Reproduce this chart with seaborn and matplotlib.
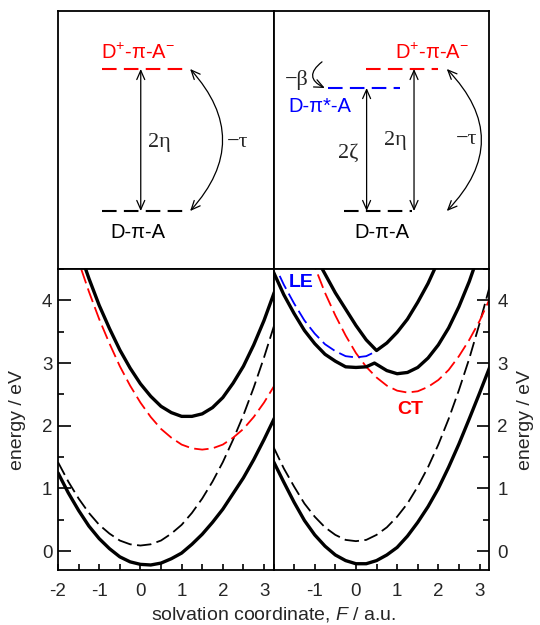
import matplotlib
matplotlib.use("Agg")
import matplotlib.pyplot as plt
from matplotlib.ticker import MultipleLocator
import seaborn as sns

# solvation coordinate grid, F / a.u.
F = [-2.0, -1.75, -1.5, -1.25, -1.0, -0.75, -0.5, -0.25, 0.0, 0.25, 0.5,
     0.75, 1.0, 1.25, 1.5, 1.75, 2.0, 2.25, 2.5, 2.75, 3.0, 3.25]

# left panel: two-state model (energies in eV)
left_neutral = [1.42, 1.11, 0.84, 0.61, 0.42, 0.28, 0.17, 0.11, 0.09, 0.11, 0.17,
                0.28, 0.42, 0.61, 0.84, 1.11, 1.42, 1.78, 2.17, 2.61, 3.09, 3.61]
left_ct = [5.70, 5.14, 4.62, 4.14, 3.70, 3.31, 2.95, 2.64, 2.37, 2.14, 1.95,
           1.81, 1.70, 1.64, 1.62, 1.64, 1.70, 1.81, 1.95, 2.14, 2.37, 2.64]
left_lower = [1.25, 0.93, 0.65, 0.40, 0.20, 0.04, -0.09, -0.17, -0.21, -0.22, -0.19,
              -0.12, -0.03, 0.11, 0.27, 0.46, 0.67, 0.92, 1.17, 1.46, 1.78, 2.12]
left_upper = [5.87, 5.32, 4.82, 4.35, 3.92, 3.55, 3.21, 2.92, 2.67, 2.47, 2.31,
              2.21, 2.15, 2.15, 2.19, 2.29, 2.45, 2.68, 2.95, 3.29, 3.68, 4.13]

# right panel: three-state model
right_neutral = [1.66, 1.32, 1.03, 0.76, 0.55, 0.38, 0.26, 0.18, 0.16, 0.18, 0.26,
                 0.38, 0.55, 0.76, 1.03, 1.34, 1.70, 2.11, 2.57, 3.07, 3.63, 4.23]
right_lower = [1.43, 1.10, 0.78, 0.49, 0.26, 0.08, -0.06, -0.15, -0.20, -0.20, -0.15,
               -0.06, 0.06, 0.24, 0.46, 0.71, 1.00, 1.34, 1.71, 2.11, 2.52, 2.94]

F_ct = [-1.25, -1.0, -0.75, -0.5, -0.25, 0.0, 0.25, 0.5, 0.75, 1.0, 1.25,
        1.5, 1.75, 2.0, 2.25, 2.5, 2.75, 3.0, 3.25]
right_ct = [5.01, 4.54, 4.12, 3.76, 3.44, 3.16, 2.94, 2.77, 2.64, 2.56, 2.53,
            2.55, 2.62, 2.73, 2.89, 3.11, 3.37, 3.67, 4.03]

F_le = [-1.85, -1.75, -1.5, -1.25, -1.0, -0.75, -0.5, -0.25, 0.0, 0.25, 0.5]
right_le = [4.39, 4.25, 3.95, 3.68, 3.47, 3.30, 3.19, 3.11, 3.09, 3.11, 3.19]

F_mid = [-2.0, -1.75, -1.5, -1.25, -1.0, -0.75, -0.5, -0.25, 0.0, 0.25, 0.45,
         0.5, 0.75, 1.0, 1.25, 1.5, 1.75, 2.0, 2.25, 2.5, 2.75, 3.0]
right_middle = [4.45, 4.09, 3.79, 3.52, 3.31, 3.14, 3.03, 2.94, 2.93, 2.94, 3.00,
                2.98, 2.88, 2.83, 2.85, 2.93, 3.08, 3.29, 3.56, 3.90, 4.30, 4.77]

F_up = [-1.0, -0.75, -0.5, -0.25, 0.0, 0.25, 0.5, 0.75, 1.0, 1.25, 1.5, 1.75, 2.0]
right_upper = [4.72, 4.42, 4.12, 3.86, 3.60, 3.37, 3.20, 3.32, 3.49, 3.70, 3.97, 4.27, 4.63]

# schematic level energies (units of 2*eta)
level_ground = 0.0
level_ct = 1.0
level_le = 0.866

RED = "#ff0000"
BLUE = "#0000ff"
DASH = (0, (8, 3))

sns.set_style("ticks")
plt.rcParams["font.family"] = ["Liberation Sans", "DejaVu Sans"]
plt.rcParams["mathtext.fontset"] = "custom"
plt.rcParams["mathtext.rm"] = "Liberation Sans"
plt.rcParams["mathtext.it"] = "Liberation Sans:italic"
plt.rcParams["axes.linewidth"] = 1.3
plt.rcParams["axes.edgecolor"] = "black"

fig = plt.figure(figsize=(5.4, 6.25), dpi=100)
ax_tl = fig.add_axes([0.1074, 0.5696, 0.3991, 0.4128])
ax_tr = fig.add_axes([0.5065, 0.5696, 0.3991, 0.4128])
ax_bl = fig.add_axes([0.1074, 0.088, 0.3991, 0.4816])
ax_br = fig.add_axes([0.5065, 0.088, 0.3991, 0.4816])


def curve(ax, x, y, color="black", dashed=False):
    sns.lineplot(x=x, y=y, ax=ax, color=color, sort=False, estimator=None,
                 lw=1.3 if dashed else 2.4, linestyle=DASH if dashed else "-")


# ---- bottom panels: energy curves
curve(ax_bl, F, left_neutral, dashed=True)
curve(ax_bl, F, left_ct, RED, dashed=True)
curve(ax_bl, F, left_lower)
curve(ax_bl, F, left_upper)

curve(ax_br, F, right_neutral, dashed=True)
curve(ax_br, F_ct, right_ct, RED, dashed=True)
curve(ax_br, F_le, right_le, BLUE, dashed=True)
curve(ax_br, F, right_lower)
curve(ax_br, F_mid, right_middle)
curve(ax_br, F_up, right_upper)

ax_br.text(-1.33, 4.28, "LE", color=BLUE, fontsize=14, fontweight="bold",
           ha="center", va="center")
ax_br.text(1.31, 2.26, "CT", color=RED, fontsize=14, fontweight="bold",
           ha="center", va="center")

for ax in (ax_bl, ax_br):
    ax.set_xlim(-2, 3.23)
    ax.set_ylim(-0.3, 4.5)
    ax.set_xlabel("")
    ax.set_ylabel("")
    ax.yaxis.set_major_locator(MultipleLocator(1))
    ax.yaxis.set_minor_locator(MultipleLocator(0.5))
    ax.xaxis.set_minor_locator(MultipleLocator(0.5))
    ax.tick_params(axis="both", which="both", direction="in", labelsize=13.5,
                   color="black", width=1.2)
    ax.tick_params(axis="y", which="major", length=9, pad=4)
    ax.tick_params(axis="y", which="minor", length=4.5)
    ax.tick_params(axis="x", which="both", length=4.5, pad=9)
    for s in ax.spines.values():
        s.set_visible(True)
        s.set_color("black")

ax_bl.set_xticks([-2, -1, 0, 1, 2, 3], ["-2", "-1", "0", "1", "2", "3"])
ax_bl.set_yticks([0, 1, 2, 3, 4], ["0", "1", "2", "3", "4"])
ax_br.set_xticks([-2, -1, 0, 1, 2, 3], ["", "-1", "0", "1", "2", "3"])
ax_br.set_yticks([0, 1, 2, 3, 4], ["0", "1", "2", "3", "4"])
ax_br.yaxis.tick_right()
ax_br.tick_params(axis="y", which="both", direction="in", pad=6)

fig.text(0.0315, 0.3288, "energy / eV", rotation=90, ha="center", va="center", fontsize=14)
fig.text(0.974, 0.3288, "energy / eV", rotation=90, ha="center", va="center", fontsize=14)
fig.text(0.5065, 0.0176, r"solvation coordinate, $\mathit{F}$ / a.u.",
         ha="center", va="center", fontsize=14)

# ---- top panels: level schematics
serif = dict(family="Liberation Serif", fontsize=16, ha="center", va="center")
head = "<->,head_length=0.5,head_width=0.22"

for ax in (ax_tl, ax_tr):
    ax.set_xlim(0, 1)
    ax.set_ylim(-0.408, 1.408)
    ax.set_xticks([])
    ax.set_yticks([])
    for s in ax.spines.values():
        s.set_visible(True)
        s.set_color("black")


def level(ax, x0, x1, y, color):
    ax.hlines(y, x0, x1, colors=color, lw=1.5, linestyles=[(0, (7, 3.5))])


def arrow(ax, x0, y0, x1, y1, style=head, rad=0.0):
    ax.annotate("", xy=(x1, y1), xytext=(x0, y0),
                arrowprops=dict(arrowstyle=style, color="black", lw=0.9,
                                shrinkA=0, shrinkB=0, mutation_scale=13,
                                connectionstyle=f"arc3,rad={rad}"))


# left schematic
level(ax_tl, 0.203, 0.589, level_ct, RED)
level(ax_tl, 0.203, 0.589, level_ground, "black")
ax_tl.text(0.371, 1.113, r"D$^{+}$-π-A$^{-}$", color=RED, fontsize=14.5, ha="center", va="center")
ax_tl.text(0.371, -0.148, "D-π-A", color="black", fontsize=14.5, ha="center", va="center")
arrow(ax_tl, 0.384, level_ground, 0.384, level_ct)
ax_tl.text(0.47, 0.479, "2η", **serif)
arrow(ax_tl, 0.613, level_ct, 0.613, level_ground, rad=-0.45)
ax_tl.text(0.835, 0.479, "−τ", **serif)

# right schematic
level(ax_tr, 0.429, 0.763, level_ct, RED)
level(ax_tr, 0.253, 0.587, level_le, BLUE)
level(ax_tr, 0.327, 0.641, level_ground, "black")
ax_tr.text(0.734, 1.113, r"D$^{+}$-π-A$^{-}$", color=RED, fontsize=14.5, ha="center", va="center")
ax_tr.text(0.216, 0.735, "D-π*-A", color=BLUE, fontsize=14.5, ha="center", va="center")
ax_tr.text(0.502, -0.148, "D-π-A", color="black", fontsize=14.5, ha="center", va="center")
arrow(ax_tr, 0.432, level_ground, 0.432, level_le)
ax_tr.text(0.346, 0.408, "2ζ", **serif)
arrow(ax_tr, 0.652, level_ground, 0.652, level_ct)
ax_tr.text(0.564, 0.5, "2η", **serif)
arrow(ax_tr, 0.804, level_ct, 0.804, level_ground, rad=-0.48)
ax_tr.text(0.897, 0.5, "−τ", **serif)
ax_tr.text(0.108, 0.923, "−β", **serif)
arrow(ax_tr, 0.225, 1.05, 0.238, level_le, style="->,head_length=0.5,head_width=0.22", rad=0.8)

fig.savefig("out.png", dpi=100)
